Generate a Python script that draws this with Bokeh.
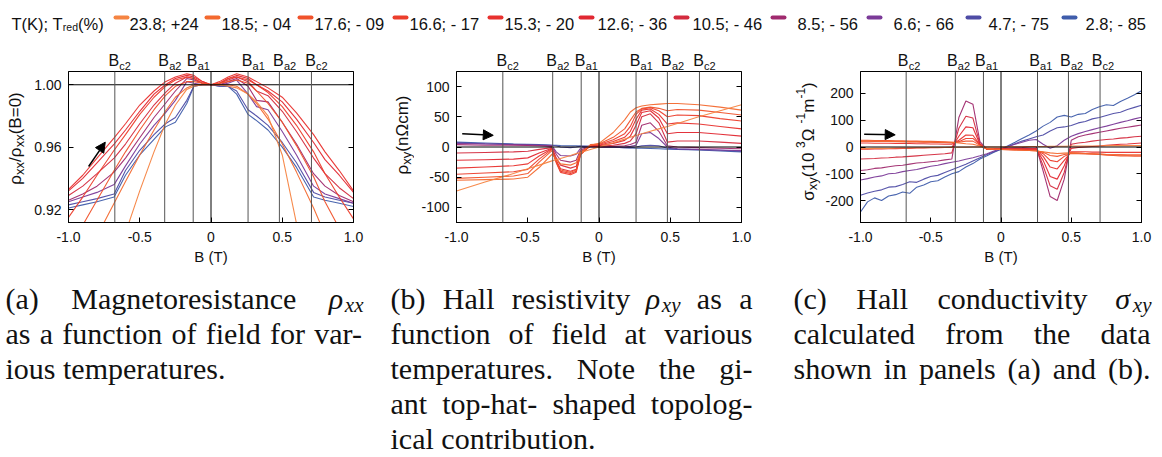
import math
from bokeh.plotting import figure
from bokeh.layouts import column, row
from bokeh.models import (Range1d, FixedTicker, CustomJSTickFormatter, LinearAxis,
                          Span, Label, Arrow, NormalHead)
from bokeh.embed import file_html
from bokeh.resources import INLINE

# ---------------------------------------------------------------- data
temps_K = ["23.8", "18.5", "17.6", "16.6", "15.3", "12.6", "10.5", "8.5", "6.6", "4.7", "2.8"]
t_red_pct = ["+24", "- 04", "- 09", "- 17", "- 20", "- 36", "- 46", "- 56", "- 66", "- 75", "- 85"]
series_colors = ["#F58442", "#F3692F", "#F0522B", "#EC3E2C", "#E8312E", "#E12832",
                 "#D42B3E", "#A02A6E", "#7B3A98", "#4E4CA5", "#3F5DAB"]

# characteristic fields (T): B_c2, B_a2, B_a1 on both sides
b_marks = [-0.675, -0.325, -0.125, 0.26, 0.48, 0.705]
b_mark_subs = ["c2", "a2", "a1", "a1", "a2", "c2"]

# (a) rho_xx / rho_xx(B=0)
field_a = [-1.0, -0.9, -0.8, -0.68, -0.6, -0.5, -0.4, -0.32, -0.25, -0.17, -0.12, -0.06, 0.0,
           0.06, 0.12, 0.18, 0.26, 0.32, 0.4, 0.5, 0.6, 0.72, 0.8, 0.9, 1.0]
rxx_238 = [0.800, 0.826, 0.852, 0.885, 0.905, 0.932, 0.957, 0.975, 0.987, 0.997, 0.999, 1.000, 1.000,
           1.000, 0.999, 0.998, 0.994, 0.989, 0.980, 0.955, 0.911, 0.870, 0.845, 0.818, 0.792]
rxx_185 = [0.870, 0.886, 0.903, 0.924, 0.938, 0.955, 0.971, 0.983, 0.992, 0.998, 1.000, 1.000, 1.000,
           1.000, 1.000, 0.999, 0.994, 0.988, 0.978, 0.962, 0.944, 0.921, 0.904, 0.886, 0.868]
rxx_176 = [0.895, 0.910, 0.926, 0.945, 0.957, 0.971, 0.984, 0.993, 0.999, 1.002, 1.002, 1.001, 1.000,
           1.001, 1.002, 1.003, 1.001, 0.996, 0.988, 0.976, 0.961, 0.941, 0.925, 0.908, 0.893]
rxx_166 = [0.915, 0.928, 0.942, 0.958, 0.968, 0.981, 0.992, 0.999, 1.003, 1.005, 1.004, 1.001, 1.000,
           1.001, 1.004, 1.005, 1.003, 1.000, 0.995, 0.986, 0.974, 0.957, 0.943, 0.928, 0.914]
rxx_153 = [0.933, 0.942, 0.953, 0.966, 0.975, 0.987, 0.996, 1.002, 1.005, 1.007, 1.006, 1.002, 1.000,
           1.002, 1.005, 1.007, 1.005, 1.002, 0.998, 0.992, 0.982, 0.968, 0.957, 0.945, 0.932]
rxx_126 = [0.932, 0.940, 0.950, 0.962, 0.971, 0.983, 0.994, 1.000, 1.004, 1.006, 1.005, 1.002, 1.000,
           1.001, 1.004, 1.006, 1.004, 1.000, 0.996, 0.989, 0.978, 0.963, 0.952, 0.942, 0.931]
rxx_105 = [0.929, 0.935, 0.943, 0.953, 0.962, 0.975, 0.987, 0.995, 1.001, 1.005, 1.004, 1.001, 1.000,
           1.001, 1.003, 1.005, 1.002, 0.996, 0.993, 0.983, 0.970, 0.953, 0.943, 0.934, 0.927]
rxx_85 = [0.926, 0.930, 0.935, 0.944, 0.953, 0.966, 0.979, 0.988, 0.996, 1.004, 1.003, 1.001, 1.000,
          1.000, 1.002, 1.004, 0.999, 0.990, 0.989, 0.976, 0.962, 0.943, 0.935, 0.929, 0.925]
rxx_66 = [0.925, 0.928, 0.931, 0.936, 0.948, 0.962, 0.974, 0.982, 0.990, 1.002, 1.001, 1.000, 1.000,
          1.000, 1.001, 1.003, 0.994, 0.986, 0.984, 0.970, 0.955, 0.935, 0.930, 0.927, 0.924]
rxx_47 = [0.923, 0.925, 0.927, 0.930, 0.945, 0.958, 0.968, 0.975, 0.979, 0.990, 0.999, 1.000, 1.000,
          0.999, 0.999, 0.996, 0.984, 0.980, 0.974, 0.963, 0.950, 0.931, 0.928, 0.926, 0.924]
rxx_28 = [0.921, 0.923, 0.925, 0.928, 0.942, 0.955, 0.965, 0.973, 0.976, 0.988, 0.999, 1.000, 1.000,
          0.999, 0.999, 0.994, 0.981, 0.977, 0.971, 0.960, 0.947, 0.928, 0.926, 0.924, 0.922]

# (b) rho_xy (n Ohm cm)
field_b = [-1.0, -0.8, -0.6, -0.5, -0.42, -0.33, -0.3, -0.27, -0.2, -0.16, -0.13, -0.06, 0.0,
           0.1, 0.18, 0.22, 0.26, 0.3, 0.36, 0.42, 0.48, 0.55, 0.7, 0.85, 1.0]
rxy_238 = [-73, -58, -44, -36, -30, -23, -21, -19, -14, -11, -9, -4, 0,
           7, 13, 16, 19, 22, 26, 30, 34, 39, 50, 60, 70]
rxy_185 = [-55, -54, -53, -50, -34, -12, -20, -28, -30, -26, -10, 3, 6,
           24, 45, 58, 65, 68, 70, 71, 72, 72, 70, 66, 61]
rxy_176 = [-52, -50, -48, -44, -25, -6, -24, -38, -42, -38, -12, 4, 5,
           16, 30, 44, 58, 64, 66, 64, 60, 62, 61, 57, 53]
rxy_166 = [-45, -43, -41, -37, -20, -4, -26, -42, -46, -42, -13, 3, 4,
           12, 22, 34, 54, 63, 65, 60, 50, 53, 52, 47, 43]
rxy_153 = [-35, -33, -31, -28, -15, -3, -25, -40, -44, -40, -12, 2, 3,
           9, 16, 26, 46, 61, 63, 54, 38, 40, 38, 34, 30]
rxy_126 = [-22, -21, -20, -18, -10, -2, -22, -36, -40, -37, -10, 2, 2,
           6, 11, 18, 36, 57, 60, 48, 22, 24, 24, 21, 18]
rxy_105 = [-10, -9, -8, -7, -4, -1, -18, -30, -35, -32, -8, 1, 1,
           3, 6, 10, 22, 50, 55, 40, 8, 10, 10, 8, 6]
rxy_85 = [4, 3, 3, 2.5, 2, 1, -12, -22, -25, -22, -5, 1, 0,
          1, 2, 4, 8, 36, 40, 26, 2, 0, -1, -2, -3]
rxy_66 = [6, 5, 4, 3.5, 3, 2, -8, -14, -15, -12, -2, 1, 0,
          0, 0, 1, 3, 22, 24, 14, 0, -3, -4, -5, -6]
rxy_47 = [7, 5.5, 4.5, 4, 3.5, 3, 2, 0, -1, 0, 1.5, 1, 0,
          -0.5, -1, -1, 0, 2, 3, 2, -2, -3.5, -4.5, -5.5, -7]
rxy_28 = [8, 6.5, 5, 4.5, 4, 3, 3, 2.5, 2, 2, 1.5, 1, 0,
          -0.5, -1, -1.5, -2, -2, -2.5, -3, -3.5, -4, -5, -6.5, -8]

# (c) sigma_xy (10^3 Ohm^-1 m^-1)
field_c = [-1.0, -0.95, -0.9, -0.85, -0.8, -0.75, -0.7, -0.65, -0.6, -0.55, -0.5, -0.45, -0.4,
           -0.35, -0.3, -0.25, -0.2, -0.15, -0.1, -0.05, 0.0, 0.05, 0.1, 0.15, 0.2, 0.25, 0.3,
           0.35, 0.4, 0.45, 0.5, 0.55, 0.6, 0.65, 0.7, 0.75, 0.8, 0.85, 0.9, 0.95, 1.0]
sxy_238 = [-6, -6, -5, -5, -5, -4, -4, -4, -3, -3, -2, -2, -2, -1, -1, -1, 0, 0, 0, 0, 0,
           1, 1, 1, 2, 2, 2, 3, 3, 3, 4, 4, 4, 4, 4, 5, 5, 5, 5, 5, 5]
sxy_185 = [22, 22, 22, 21, 21, 21, 20, 20, 20, 19, 19, 18, 18, 18, 15, 12, 10, 4, -6, -8, -9,
           -10, -11, -12, -13, -15, -18, -22, -24, -23, -22, -23, -24, -25, -26, -28, -29, -29, -30, -30, -30]
sxy_176 = [25, 25, 24, 24, 24, 23, 23, 22, 22, 21, 21, 20, 19, 18, 18, 22, 22, 6, -8, -9, -9,
           -10, -11, -12, -13, -14, -20, -32, -35, -28, -24, -25, -26, -27, -28, -31, -32, -33, -33, -34, -34]
sxy_166 = [22, 22, 21, 21, 21, 20, 20, 19, 19, 18, 18, 17, 16, 15, 20, 32, 32, 8, -8, -8, -9,
           -9, -10, -10, -11, -12, -25, -50, -55, -35, -22, -23, -24, -25, -26, -28, -29, -29, -30, -30, -30]
sxy_153 = [15, 15, 14, 14, 14, 13, 13, 13, 12, 12, 11, 11, 10, 10, 25, 45, 44, 8, -8, -8, -8,
           -9, -9, -9, -10, -10, -35, -75, -82, -50, -18, -18, -18, -19, -19, -20, -20, -20, -20, -20, -20]
sxy_126 = [-8, -8, -7, -7, -6, -6, -5, -5, -4, -4, -3, -3, -2, -2, 40, 75, 72, 10, -8, -8, -8,
           -8, -8, -8, -8, -8, -50, -110, -120, -70, -5, -2, 0, 2, 4, 6, 8, 10, 11, 13, 15]
sxy_105 = [-45, -44, -43, -41, -40, -38, -37, -35, -33, -31, -29, -27, -25, -22, 70, 115, 108, 12, -8, -8, -7,
           -7, -6, -6, -6, -5, -70, -145, -158, -95, 10, 15, 18, 22, 25, 28, 30, 33, 35, 38, 40]
sxy_85 = [-88, -85, -80, -78, -74, -70, -68, -64, -60, -58, -55, -52, -48, -45, 110, 172, 160, 20, -8, -8, -6,
          -4, -3, -2, 0, 2, -90, -185, -200, -120, 25, 38, 45, 50, 55, 60, 65, 70, 74, 78, 82]
sxy_66 = [-123, -118, -112, -108, -100, -98, -92, -88, -84, -78, -72, -68, -62, -57, -52, -46, -40, -33, -25, -15, -6,
          2, 10, 18, 25, 28, 10, -5, 5, 25, 40, 50, 58, 65, 72, 78, 85, 92, 98, 105, 111]
sxy_47 = [-180, -172, -165, -160, -150, -148, -140, -130, -132, -120, -110, -106, -95, -85, -75, -64, -52, -40, -28, -18, -8,
          2, 12, 22, 30, 38, 45, 60, 72, 75, 80, 90, 95, 105, 110, 118, 125, 130, 140, 148, 156]
sxy_28 = [-243, -205, -190, -200, -183, -178, -168, -173, -150, -142, -130, -126, -112, -100, -92, -75, -62, -45, -33, -20, -8,
          5, 18, 32, 45, 60, 78, 92, 112, 118, 112, 122, 125, 140, 150, 158, 155, 170, 182, 195, 210]

rho_xx_all = [rxx_238, rxx_185, rxx_176, rxx_166, rxx_153, rxx_126, rxx_105, rxx_85, rxx_66, rxx_47, rxx_28]
rho_xy_all = [rxy_238, rxy_185, rxy_176, rxy_166, rxy_153, rxy_126, rxy_105, rxy_85, rxy_66, rxy_47, rxy_28]
sig_xy_all = [sxy_238, sxy_185, sxy_176, sxy_166, sxy_153, sxy_126, sxy_105, sxy_85, sxy_66, sxy_47, sxy_28]

# ---------------------------------------------------------------- style helpers
SANS = "Liberation Sans"
SERIF = "Liberation Serif"
INK = "#111111"

ARIAL = {' ': .278, '(': .333, ')': .333, '/': .278, '=': .584, '-': .333, '.': .278, ';': .278,
         '%': .889, '+': .584, 'B': .667, 'T': .611, 'K': .667, 'a': .556, 'c': .5, 'd': .556,
         'e': .556, 'm': .833, 'n': .556, 'r': .333, 'x': .5, 'y': .5, 'ρ': .58, 'σ': .62, 'Ω': .77}
TIMES = {'a': .444, 'b': .5, 'c': .444, 'd': .5, 'e': .444, 'f': .333, 'g': .5, 'h': .5, 'i': .278,
         'j': .278, 'k': .5, 'l': .278, 'm': .778, 'n': .5, 'o': .5, 'p': .5, 'q': .5, 'r': .333,
         's': .389, 't': .278, 'u': .5, 'v': .5, 'w': .722, 'x': .444, 'y': .444, 'z': .389,
         'H': .722, 'M': .889, 'N': .722, '(': .333, ')': .333, '.': .25, '-': .333, ' ': .25,
         'ρ': .5, 'σ': .55}


def aw(s, size):
    return sum(ARIAL.get(ch, .556) for ch in s) * size


def tw(s, size):
    return sum(TIMES.get(ch, .5) for ch in s) * size


PAGE_W = 1160
TOP_H = 71          # legend strip + field labels
FRAME_TOP = 71
FH = 151
ROW_BOTTOM = 275
PAGE_H = 457


def blank_fig(x0, x1, y0, y1):
    f = figure(frame_width=x1 - x0, frame_height=y1 - y0, x_range=Range1d(x0, x1),
               y_range=Range1d(y1, y0), min_border_left=0, min_border_right=0,
               min_border_top=0, min_border_bottom=0, x_axis_type=None, y_axis_type=None,
               output_backend="svg", toolbar_location=None, tools="")
    f.grid.visible = False
    f.outline_line_color = None
    f.background_fill_color = "white"
    f.border_fill_color = "white"
    return f


def style_axis(ax, ticks, code, show):
    ax.ticker = FixedTicker(ticks=ticks)
    ax.formatter = CustomJSTickFormatter(code=code if show else "return ''")
    ax.major_tick_in = 5
    ax.major_tick_out = 0
    ax.minor_tick_in = 0
    ax.minor_tick_out = 0
    ax.major_tick_line_color = "black"
    ax.axis_line_color = "black"
    ax.major_label_text_font = SANS
    ax.major_label_text_font_size = "14px" if show else "0px"
    ax.major_label_text_color = INK
    ax.major_label_standoff = 7 if show else 0


def make_panel(bl, fw, br, ylo, yhi, yticks, ycode, xs, ys_all, href, arrow, lw):
    p = figure(frame_width=fw, frame_height=FH, min_border_left=bl, min_border_right=br,
               min_border_top=0, min_border_bottom=ROW_BOTTOM - FRAME_TOP - FH,
               x_range=Range1d(-1, 1), y_range=Range1d(ylo, yhi),
               output_backend="svg", toolbar_location=None, tools="")
    p.grid.visible = False
    p.outline_line_color = "black"
    p.outline_line_alpha = 1.0
    p.background_fill_color = "white"
    p.border_fill_color = "white"

    xax = p.below[0]
    yax = p.left[0]
    style_axis(xax, [-1, -0.5, 0, 0.5, 1], "return tick == 0 ? '0' : tick.toFixed(1)", True)
    style_axis(yax, yticks, ycode, True)
    xax.major_label_standoff = 9
    xax.axis_label = "B (T)"
    xax.axis_label_text_font = SANS
    xax.axis_label_text_font_size = "15px"
    xax.axis_label_text_font_style = "normal"
    xax.axis_label_text_color = INK
    xax.axis_label_standoff = 3
    right = LinearAxis()
    style_axis(right, yticks, "", False)
    p.add_layout(right, "right")

    # reference lines
    p.add_layout(Span(location=href, dimension="width", line_color="black", line_width=1))
    p.add_layout(Span(location=0, dimension="height", line_color="black", line_width=1))
    for bm in b_marks:
        p.add_layout(Span(location=bm, dimension="height", line_color="#555555", line_width=1))

    # curves: coldest first, so the warm (red) curves sit on top
    for ys, col in list(zip(ys_all, series_colors))[::-1]:
        p.line(xs, ys, line_color=col, line_width=lw, line_alpha=0.95)

    (x0, y0), (x1, y1) = arrow
    p.add_layout(Arrow(end=NormalHead(size=10, fill_color="black", line_color="black"),
                       x_start=x0, y_start=y0, x_end=x1, y_end=y1,
                       line_color="black", line_width=1.5))
    return p


# panel geometry in page pixels: (y-label strip x0, panel x0, frame left, frame width, panel x1)
GEOM = {
    "a": (0, 26, 68, 285, 390),
    "b": (390, 414, 456, 285, 785),
    "c": (785, 822, 858, 281, PAGE_W),
}


def panel_for(key, ylo, yhi, yticks, ycode, xs, ys_all, href, arrow):
    s0, p0, fl, fw, p1 = GEOM[key]
    return make_panel(fl - p0, fw, p1 - (fl + fw), ylo, yhi, yticks, ycode, xs, ys_all, href, arrow, 1.1)


pa = panel_for("a", 0.9117, 1.0085, [0.92, 0.96, 1.00], "return tick.toFixed(2)",
               field_a, rho_xx_all, 1.0, ((-0.859, 0.9476), (-0.742, 0.9632)))
pb = panel_for("b", -125, 125, [-100, -50, 0, 50, 100], "return tick.toFixed(0)",
               field_b, rho_xy_all, 0.0, ((-0.96, 22), (-0.742, 19.3)))
pc = panel_for("c", -282, 282, [-200, -100, 0, 100, 200], "return tick.toFixed(0)",
               field_c, sig_xy_all, 0.0, ((-0.974, 48), (-0.753, 45.5)))


# ---------------------------------------------------------------- rotated y labels
def ylabel_fig(key, x_base, y_center, pieces):
    s0, p0, fl, fw, p1 = GEOM[key]
    f = blank_fig(s0, p0, FRAME_TOP, ROW_BOTTOM)
    total = sum(aw(t, s) for t, s, _ in pieces)
    yy = y_center + total / 2.0
    for t, s, sh in pieces:
        f.add_layout(Label(x=x_base + sh, y=yy, text=t, angle=math.pi / 2, angle_units="rad",
                           text_align="left", text_baseline="alphabetic", text_font=SANS,
                           text_font_size=f"{s}px", text_color=INK))
        yy -= aw(t, s)
    return f


la = ylabel_fig("a", 15, 138, [("ρ", 17, 0), ("xx", 13, 4), ("/", 17, 0), ("ρ", 17, 0),
                               ("xx", 13, 4), ("(B=0)", 17, 0)])
lb = ylabel_fig("b", 402, 132, [("ρ", 17, 0), ("xy", 13, 4), (" (nΩcm)", 17, 0)])
lc = ylabel_fig("c", 808, 141, [("σ", 17, 0), ("xy", 13, 4), (" (10", 17, 0), ("3", 12, -8),
                                (" Ω", 17, 0), ("-1", 12, -8), ("m", 17, 0), ("-1", 12, -8),
                                (")", 17, 0)])

# ---------------------------------------------------------------- top strip: legend + field labels
top = blank_fig(0, PAGE_W, 0, TOP_H)
LS = 16.5
xt = 11
top.add_layout(Label(x=xt, y=23, text="T(K); T", text_font=SANS, text_font_size=f"{LS}px",
                     text_baseline="alphabetic", text_color=INK))
xt += aw("T(K); T", LS)
top.add_layout(Label(x=xt, y=26.5, text="red", text_font=SANS, text_font_size="10.5px",
                     text_baseline="alphabetic", text_color=INK))
xt += aw("red", 10.5)
top.add_layout(Label(x=xt, y=23, text="(%)", text_font=SANS, text_font_size=f"{LS}px",
                     text_baseline="alphabetic", text_color=INK))
swatch_left = [115, 206, 299, 394, 489, 580, 675, 772, 868, 967, 1063]
label_left = [129, 221, 314, 409, 504, 597, 692, 797, 893, 988, 1085]
top.segment(x0=swatch_left, y0=[17] * 11, x1=[s + 12 for s in swatch_left], y1=[17] * 11,
            line_color=series_colors, line_width=4, line_cap="round")
for lx, tk, tr in zip(label_left, temps_K, t_red_pct):
    top.add_layout(Label(x=lx, y=23, text=f"{tk}; {tr}", text_font=SANS, text_font_size=f"{LS}px",
                         text_baseline="alphabetic", text_color=INK))

for key in ("a", "b", "c"):
    s0, p0, fl, fw, p1 = GEOM[key]
    for bm, sub in zip(b_marks, b_mark_subs):
        mpx = fl + (bm + 1) / 2.0 * fw
        top.add_layout(Label(x=mpx - 1, y=60, text="B", text_align="center",
                             text_baseline="alphabetic", text_font=SANS, text_font_size="16px",
                             text_color=INK))
        top.add_layout(Label(x=mpx + 4.5, y=65, text=sub, text_align="left",
                             text_baseline="alphabetic", text_font=SANS, text_font_size="11px",
                             text_color=INK))

# ---------------------------------------------------------------- captions
cap = blank_fig(0, PAGE_W, ROW_BOTTOM, PAGE_H)
CS = 30
SS = 21
CAP_BASE = 298
CAP_STEP = 35
cap_cols = [(5, 362), (390, 752), (793, 1150)]
captions = [
    [(["(a)", "Magnetoresistance", ("ρ", "xx")], True),
     (["as", "a", "function", "of", "field", "for", "var-"], True),
     (["ious", "temperatures."], False)],
    [(["(b)", "Hall", "resistivity", ("ρ", "xy"), "as", "a"], True),
     (["function", "of", "field", "at", "various"], True),
     (["temperatures.", "Note", "the", "gi-"], True),
     (["ant", "top-hat-", "shaped", "topolog-"], True),
     (["ical", "contribution."], False)],
    [(["(c)", "Hall", "conductivity", ("σ", "xy")], True),
     (["calculated", "from", "the", "data"], True),
     (["shown", "in", "panels", "(a)", "and", "(b)."], True)],
]


def tok_w(tok):
    if isinstance(tok, tuple):
        return tw(tok[0], CS) + tw(tok[1], SS)
    return tw(tok, CS)


for (cl, cr), lines in zip(cap_cols, captions):
    for i, (toks, just) in enumerate(lines):
        base = CAP_BASE + CAP_STEP * i
        widths = [tok_w(t) for t in toks]
        if just and len(toks) > 1:
            gap = (cr - cl - sum(widths)) / (len(toks) - 1)
        else:
            gap = tw(" ", CS)
        x = cl
        for tok, w in zip(toks, widths):
            if isinstance(tok, tuple):
                cap.add_layout(Label(x=x, y=base, text=tok[0], text_font=SERIF,
                                     text_font_size=f"{CS}px", text_font_style="italic",
                                     text_baseline="alphabetic", text_color=INK))
                cap.add_layout(Label(x=x + tw(tok[0], CS) + 1, y=base + 6, text=tok[1],
                                     text_font=SERIF, text_font_size=f"{SS}px",
                                     text_font_style="italic", text_baseline="alphabetic",
                                     text_color=INK))
            else:
                cap.add_layout(Label(x=x, y=base, text=tok, text_font=SERIF,
                                     text_font_size=f"{CS}px", text_baseline="alphabetic",
                                     text_color=INK))
            x += w + gap

layout = column(top, row(la, pa, lb, pb, lc, pc), cap)
open("out.html", "w").write(file_html(layout, INLINE, "Magnetotransport"))
